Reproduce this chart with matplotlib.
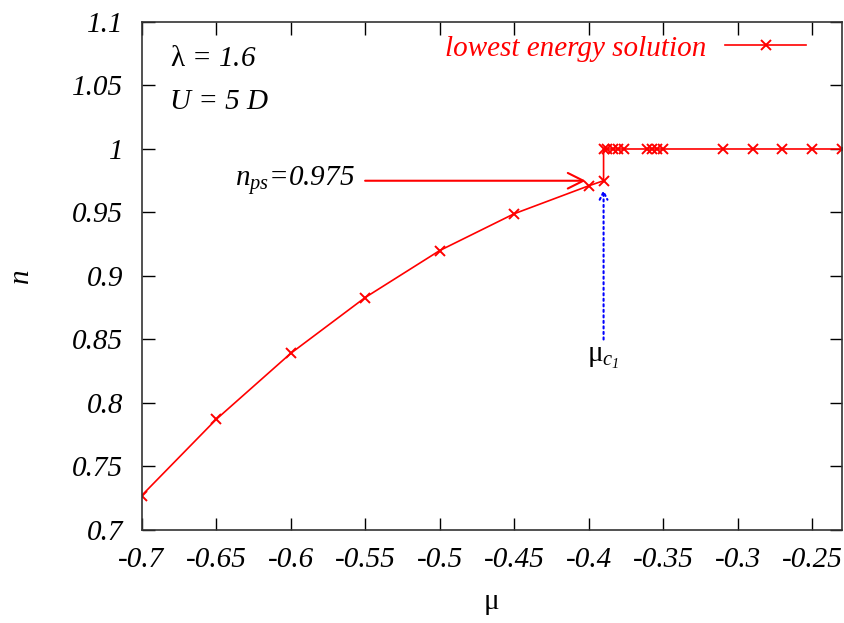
import matplotlib.pyplot as plt
import numpy as np

plt.rcParams['font.family'] = 'Liberation Serif'
plt.rcParams['mathtext.fontset'] = 'custom'
plt.rcParams['mathtext.rm'] = 'Liberation Serif'
plt.rcParams['mathtext.it'] = 'Liberation Serif:italic'
plt.rcParams['mathtext.bf'] = 'Liberation Serif:italic'
plt.rcParams['axes.unicode_minus'] = False

# lowest energy solution: lower branch up to the jump, then n = 1
mu_low = [-0.70, -0.65, -0.60, -0.55, -0.50, -0.45, -0.40, -0.39]
n_low = [0.727, 0.787, 0.839, 0.883, 0.920, 0.949, 0.971, 0.975]
mu_high = [-0.39, -0.3875, -0.384, -0.380, -0.376, -0.361, -0.3575, -0.354,
           -0.350, -0.31, -0.29, -0.27, -0.25, -0.23]
n_high = [1.0] * len(mu_high)

mu = mu_low + mu_high
n = n_low + n_high

n_ps = 0.975
mu_c1 = -0.39

xticks = [-0.7, -0.65, -0.6, -0.55, -0.5, -0.45, -0.4, -0.35, -0.3, -0.25]
yticks = [0.7, 0.75, 0.8, 0.85, 0.9, 0.95, 1.0, 1.05, 1.1]

fs = 21

fig = plt.figure(figsize=(8.45, 6.23), dpi=100)
ax = fig.add_axes([0.1675, 0.1493, 0.829, 0.8154])

ax.plot(mu, n, color='red', lw=1.2, marker='x', ms=7, mew=1.4,
        label='lowest energy solution')

# arrows
ax.annotate('', xy=(-0.402, n_ps), xytext=(-0.55, n_ps),
            arrowprops=dict(arrowstyle='->', color='red', lw=1.5,
                            mutation_scale=28, shrinkA=0, shrinkB=0))
ax.text(-0.557, n_ps, r'$n_{ps}$=0.975', fontsize=fs, fontstyle='italic',
        ha='right', va='center')
ax.annotate('', xy=(mu_c1, 0.968), xytext=(mu_c1, 0.85),
            arrowprops=dict(arrowstyle='->', color='blue', lw=1.5,
                            ls=':', mutation_scale=14, shrinkA=0, shrinkB=0))
ax.text(-0.4013, 0.846, r'$\mathrm{μ}_{c_{\mathbf{1}}}$', fontsize=fs,
        ha='left', va='top')

ax.text(-0.681, 1.071, r'$\mathrm{λ}$ = 1.6', fontsize=fs, fontstyle='italic',
        va='center')
ax.text(-0.681, 1.037, 'U = 5 D', fontsize=fs, fontstyle='italic',
        va='center')

ax.set_xlim(-0.7, -0.23)
ax.set_ylim(0.7, 1.1)
ax.set_xticks(xticks)
ax.set_yticks(yticks)
ax.set_xticklabels(['%g' % t for t in xticks])
ax.set_yticklabels(['%g' % t for t in yticks])
ax.tick_params(direction='in', top=True, right=True, length=9, width=1,
               labelsize=fs)
ax.tick_params(axis='x', pad=12)
ax.tick_params(axis='y', pad=13)
for lab in ax.get_xticklabels() + ax.get_yticklabels():
    lab.set_fontstyle('italic')
for s in ax.spines.values():
    s.set_linewidth(1.2)
    s.set_color('#333333')

ax.set_xlabel('μ', fontsize=fs, labelpad=12)
ax.set_ylabel('n', fontsize=fs, fontstyle='italic', labelpad=28)

leg = ax.legend(loc='center right', frameon=False, markerfirst=False,
                prop={'style': 'italic', 'size': fs}, handlelength=2.75,
                handletextpad=0.65, borderpad=0, borderaxespad=0,
                labelcolor='red', bbox_to_anchor=(0.948, 0.948))

fig.savefig('out.png', dpi=100)
